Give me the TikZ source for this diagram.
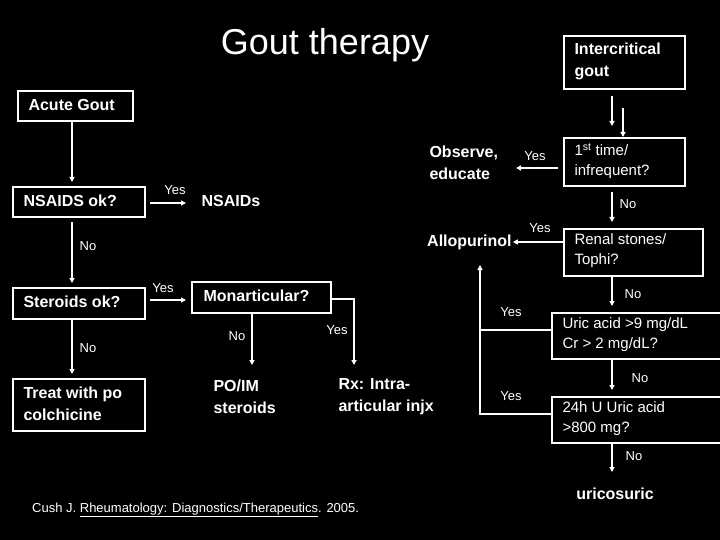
\documentclass[tikz,border=0pt]{standalone}
\usepackage{fontspec}
\setmainfont{Liberation Sans}
\usetikzlibrary{arrows.meta}
\begin{document}
\begin{tikzpicture}[x=1pt,y=-1pt,
  bx/.style={draw=white,line width=1.6pt,inner sep=0pt,anchor=north west},
  tx/.style={text=white,font=\bfseries\fontsize{16}{22}\selectfont,align=left},
  lb/.style={text=white,font=\fontsize{13}{14}\selectfont,inner sep=0pt},
  ar/.style={draw=white,line width=1.4pt,-{Triangle[length=5pt,width=5pt]}},
  ln/.style={draw=white,line width=1.4pt}]
\fill[black] (0,0) rectangle (720,540);
\useasboundingbox (0,0) rectangle (720,540);
\node[text=white,font=\fontsize{36}{40}\selectfont] (title) at (325,45) {Gout therapy};
% boxes
\node[bx,minimum width=115pt,minimum height=30pt] (acute) at (17,90) {};
\node[tx,anchor=west] at (25,105) {Acute Gout};
\node[bx,minimum width=132pt,minimum height=30pt] (nsok) at (12,186) {};
\node[tx,anchor=west] at (20,201) {NSAIDS ok?};
\node[bx,minimum width=132pt,minimum height=31pt] (stok) at (12,287) {};
\node[tx,anchor=west] at (20,302) {Steroids ok?};
\node[bx,minimum width=132pt,minimum height=52pt] (treat) at (12,378) {};
\node[tx,anchor=west] at (20,404) {Treat with po\\colchicine};
\node[bx,minimum width=139pt,minimum height=31pt] (mono) at (191,281) {};
\node[tx,anchor=west] at (200,296) {Monarticular?};
\node[bx,minimum width=121pt,minimum height=53pt] (inter) at (563,35) {};
\node[tx,anchor=west] at (571,61) {Intercritical\\gout};
\node[bx,minimum width=121pt,minimum height=48pt] (first) at (563,137) {};
\node[tx,anchor=west,font=\fontsize{15}{20}\selectfont] at (571,161) {1\textsuperscript{st} time/\\infrequent?};
\node[bx,minimum width=139pt,minimum height=47pt] (renal) at (563,228) {};
\node[tx,anchor=west,font=\fontsize{15}{20}\selectfont] at (571,251) {Renal stones/\\Tophi?};
\node[bx,minimum width=171pt,minimum height=46pt] (uric) at (551,312) {};
\node[tx,anchor=west,font=\fontsize{15}{20}\selectfont] at (559,335) {Uric acid >9 mg/dL\\Cr > 2 mg/dL?};
\node[bx,minimum width=171pt,minimum height=46pt] (uh) at (551,396) {};
\node[tx,anchor=west,font=\fontsize{15}{20}\selectfont] at (559,419) {24h U Uric acid\\>800 mg?};
% plain texts
\node[tx,anchor=west] (nsaids) at (198,201) {NSAIDs};
\node[tx,anchor=west] (obs) at (426,163) {Observe,\\educate};
\node[tx,anchor=west,inner sep=1pt] (allo) at (426,242) {Allopurinol};
\node[tx,anchor=west] (poim) at (210,397) {PO/IM\\steroids};
\node[tx,anchor=west] (rx) at (335,397) {Rx: Intra-\\articular injx};
\node[tx] (uricos) at (615,494) {uricosuric};
\node[lb,anchor=west] (cite) at (32,510) {Cush J. \underline{Rheumatology: Diagnostics/Therapeutics}. 2005.};
% connectors
\coordinate (a1) at (72,120); \coordinate (a2) at (72,182);
\draw[ar] (a1) -- (a2);
\coordinate (b1) at (150,203); \coordinate (b2) at (186,203);
\draw[ar] (b1) -- (b2); \node[lb] at (175,190) {Yes};
\coordinate (c1) at (72,222); \coordinate (c2) at (72,283);
\draw[ar] (c1) -- (c2); \node[lb] at (88,246) {No};
\coordinate (d1) at (150,300); \coordinate (d2) at (186,300);
\draw[ar] (d1) -- (d2); \node[lb] at (163,288) {Yes};
\coordinate (e1) at (72,318); \coordinate (e2) at (72,374);
\draw[ar] (e1) -- (e2); \node[lb] at (88,348) {No};
\coordinate (f1) at (252,312); \coordinate (f2) at (252,365);
\draw[ar] (f1) -- (f2); \node[lb] at (237,336) {No};
\coordinate (g1) at (330,299); \coordinate (g2) at (354,365);
\draw[ar] (g1) -| (g2); \node[lb] at (337,330) {Yes};
\coordinate (h1) at (612,96); \coordinate (h2) at (612,126);
\draw[ar] (h1) -- (h2);
\coordinate (h3) at (623,108); \coordinate (h4) at (623,137);
\draw[ar] (h3) -- (h4);
\coordinate (i1) at (558,168); \coordinate (i2) at (516,168);
\draw[ar] (i1) -- (i2); \node[lb] at (535,156) {Yes};
\coordinate (j1) at (612,192); \coordinate (j2) at (612,222);
\draw[ar] (j1) -- (j2); \node[lb] at (628,204) {No};
\draw[ar] (renal.west |- allo) -- (allo.east); \node[lb] at (540,228) {Yes};
\coordinate (k1) at (612,275); \coordinate (k2) at (612,306);
\draw[ar] (k1) -- (k2); \node[lb] at (633,294) {No};
\coordinate (m1) at (480,330); \coordinate (m2) at (480,265);
\draw[ar] (uric.west |- m1) -- (m1) -- (m2); \node[lb] at (511,312) {Yes};
\coordinate (n1) at (480,414);
\draw[ln] (uh.west |- n1) -- (n1) -- (m1); \node[lb] at (511,396) {Yes};
\coordinate (o1) at (612,358); \coordinate (o2) at (612,390);
\draw[ar] (o1) -- (o2); \node[lb] at (640,378) {No};
\coordinate (p1) at (612,442); \coordinate (p2) at (612,472);
\draw[ar] (p1) -- (p2); \node[lb] at (634,456) {No};
\end{tikzpicture}
\end{document}
